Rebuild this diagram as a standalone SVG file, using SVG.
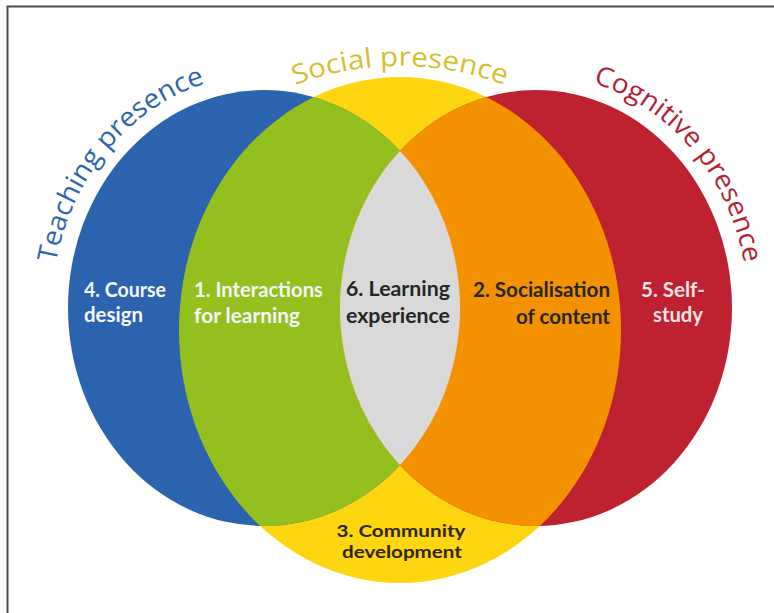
<svg xmlns="http://www.w3.org/2000/svg" width="774" height="613" viewBox="0 0 774 613">
<style>
.title{font-family:"Open Sans","Liberation Sans",sans-serif;font-size:27px;}
.lbl{font-family:Lato,"Open Sans","Liberation Sans",sans-serif;font-weight:700;font-size:20px;}
.sm{font-size:17px;}
.w{fill:#f4f7fb;}
.dk{fill:#262626;}
</style>
<defs>
<clipPath id="cBlue"><ellipse cx="264" cy="308" rx="196" ry="218"/></clipPath>
<clipPath id="cRed"><ellipse cx="536" cy="308" rx="196" ry="218"/></clipPath>
<path id="pTeach" d="M 56 263 A 212 234 0 0 1 207 83"/>
<path id="pSocial" d="M 290 87 A 300 300 0 0 1 510 87"/>
<path id="pCog" d="M 593 83 A 212 234 0 0 1 744 263"/>
</defs>
<rect x="0" y="0" width="774" height="613" fill="#ffffff"/>
<path d="M 7.5 613 V 6.5 H 774" fill="none" stroke="#4d4d4d" stroke-width="2"/>

<g id="social-presence">
<ellipse cx="400" cy="330" rx="221" ry="253" fill="#fdd60f"/>
<text class="title" fill="#d4bf2c"><textPath href="#pSocial" startOffset="50%" text-anchor="middle" textLength="214" lengthAdjust="spacingAndGlyphs">Social presence</textPath></text>
</g>
<g id="teaching-presence">
<ellipse cx="264" cy="308" rx="196" ry="218" fill="#2b63ae"/>
<text class="title" fill="#2e64ad"><textPath href="#pTeach" startOffset="0" textLength="245" lengthAdjust="spacingAndGlyphs">Teaching presence</textPath></text>
</g>
<g id="cognitive-presence">
<ellipse cx="536" cy="308" rx="196" ry="218" fill="#be2230"/>
<text class="title" fill="#b3202f"><textPath href="#pCog" startOffset="0" textLength="247" lengthAdjust="spacingAndGlyphs">Cognitive presence</textPath></text>
</g>

<g id="region-1-interactions">
<ellipse cx="400" cy="330" rx="221" ry="253" fill="#93c01f" clip-path="url(#cBlue)"/>
<text class="lbl w" x="194" y="297" textLength="129" lengthAdjust="spacingAndGlyphs">1. Interactions</text>
<text class="lbl w" x="194" y="323" textLength="106" lengthAdjust="spacingAndGlyphs">for learning</text>
</g>
<g id="region-2-socialisation">
<ellipse cx="400" cy="330" rx="221" ry="253" fill="#f39100" clip-path="url(#cRed)"/>
<text class="lbl dk" x="610" y="297" text-anchor="end" textLength="137" lengthAdjust="spacingAndGlyphs">2. Socialisation</text>
<text class="lbl dk" x="610" y="324" text-anchor="end" textLength="94" lengthAdjust="spacingAndGlyphs">of content</text>
</g>
<g id="region-6-learning">
<ellipse cx="264" cy="308" rx="196" ry="218" fill="#d9d9d9" clip-path="url(#cRed)"/>
<text class="lbl dk" x="346" y="296" textLength="104" lengthAdjust="spacingAndGlyphs">6. Learning</text>
<text class="lbl dk" x="346" y="323" textLength="104" lengthAdjust="spacingAndGlyphs">experience</text>
</g>
<g id="region-4-course">
<text class="lbl w" x="84" y="297" textLength="82" lengthAdjust="spacingAndGlyphs">4. Course</text>
<text class="lbl w" x="84" y="322" textLength="59" lengthAdjust="spacingAndGlyphs">design</text>
</g>
<g id="region-5-self">
<text class="lbl" fill="#f7e3e5" x="673" y="297" text-anchor="middle" textLength="64" lengthAdjust="spacingAndGlyphs">5. Self-</text>
<text class="lbl" fill="#f7e3e5" x="678" y="322" text-anchor="middle" textLength="50" lengthAdjust="spacingAndGlyphs">study</text>
</g>
<g id="region-3-community">
<text class="lbl sm" fill="#2e2708" x="401" y="537" text-anchor="middle" textLength="129" lengthAdjust="spacingAndGlyphs">3. Community</text>
<text class="lbl sm" fill="#2e2708" x="402" y="558" text-anchor="middle" textLength="120" lengthAdjust="spacingAndGlyphs">development</text>
</g>
</svg>
